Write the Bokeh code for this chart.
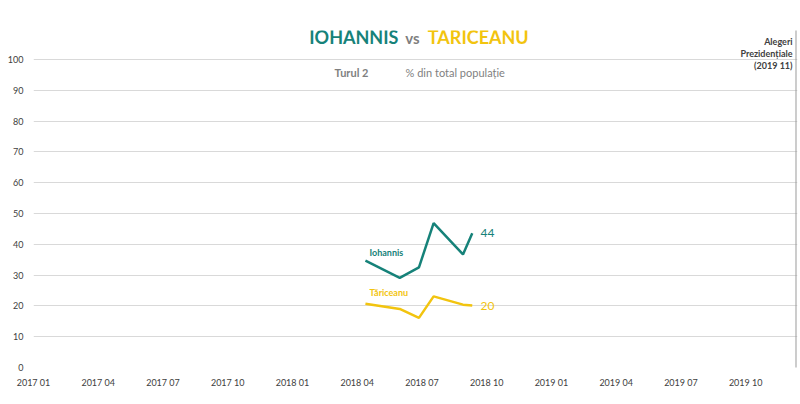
from bokeh.plotting import figure
from bokeh.models import FixedTicker, Span
from bokeh.embed import file_html
from bokeh.resources import INLINE
from bokeh.core.properties import value

# month index: 0 = 2017 01
tick_months = [0, 3, 6, 9, 12, 15, 18, 21, 24, 27, 30, 33]
tick_labels = ["2017 01", "2017 04", "2017 07", "2017 10", "2018 01", "2018 04",
               "2018 07", "2018 10", "2019 01", "2019 04", "2019 07", "2019 10"]

poll_months = [15.38, 16.97, 17.86, 18.54, 19.90, 20.33]
iohannis = [34.7, 29.1, 32.5, 46.9, 36.7, 43.6]
tariceanu = [20.7, 19.0, 16.1, 23.1, 20.4, 20.1]

election_month = 35.33

TEAL = "#168279"
YELLOW = "#f2c40f"
GRAY = "#7f7f7f"
DARK = "#404040"
FONT = "Lato"

p = figure(width=800, height=404, output_backend="svg", toolbar_location=None,
           x_range=(0, 35.4), y_range=(0, 109.4),
           min_border_left=33, min_border_right=3, min_border_top=30, min_border_bottom=37)
p.outline_line_color = None
p.background_fill_color = "white"
p.border_fill_color = "white"

p.xgrid.visible = False
p.ygrid.ticker = FixedTicker(ticks=list(range(0, 101, 10)))
p.ygrid.grid_line_color = "#d9d9d9"
p.ygrid.grid_line_width = 1

p.yaxis.ticker = FixedTicker(ticks=list(range(0, 101, 10)))
p.xaxis.ticker = FixedTicker(ticks=tick_months)
p.xaxis.major_label_overrides = {m: l for m, l in zip(tick_months, tick_labels)}
for ax in (p.xaxis, p.yaxis):
    ax.axis_line_color = None
    ax.major_tick_line_color = None
    ax.minor_tick_line_color = None
    ax.major_label_text_font = FONT
    ax.major_label_text_font_size = "9px"
    ax.major_label_text_color = DARK
p.yaxis.major_label_standoff = 4
p.xaxis.major_label_standoff = 3

p.add_layout(Span(location=election_month, dimension="height", line_color="#9a9a9a",
                  line_dash="1 1", line_width=2))

p.line(poll_months, iohannis, line_color=TEAL, line_width=2.5)
p.line(poll_months, tariceanu, line_color=YELLOW, line_width=2.5)

# end values
p.text([poll_months[-1] + 0.38], [iohannis[-1] + 0.2], text=[str(round(iohannis[-1]))],
       text_color=TEAL, text_font=value(FONT), text_font_size="12px",
       text_baseline="middle", text_align="left")
p.text([poll_months[-1] + 0.38], [tariceanu[-1]], text=[str(round(tariceanu[-1]))],
       text_color=YELLOW, text_font=value(FONT), text_font_size="12px",
       text_baseline="middle", text_align="left")

# series names
p.text([15.57], [37.3], text=["Iohannis"], text_color=TEAL, text_font=value(FONT),
       text_font_size="9px", text_font_style="bold", text_baseline="middle")
p.text([15.57], [24.35], text=["Tăriceanu"], text_color=YELLOW, text_font=value(FONT),
       text_font_size="9px", text_font_style="bold", text_baseline="middle")

# title
p.text([16.91], [107.4], text=["IOHANNIS"], text_color=TEAL, text_font=value(FONT),
       text_font_size="18px", text_font_style="bold", text_baseline="middle", text_align="right")
p.text([17.56], [107.0], text=["vs"], text_color=GRAY, text_font=value(FONT),
       text_font_size="15px", text_font_style="bold", text_baseline="middle", text_align="center")
p.text([18.27], [107.4], text=["TĂRICEANU"], text_color=YELLOW, text_font=value(FONT),
       text_font_size="18px", text_font_style="bold", text_baseline="middle", text_align="left")

# subtitle
p.text([13.95], [95.8], text=["Turul 2"], text_color=GRAY, text_font=value(FONT),
       text_font_size="11px", text_font_style="bold", text_baseline="middle")
p.text([17.24], [95.8], text=["% din total populație"], text_color=GRAY, text_font=value(FONT),
       text_font_size="11px", text_baseline="middle")

# election annotation
for yy, t in zip([105.8, 101.9, 98.05], ["Alegeri", "Prezidențiale", "(2019 11)"]):
    p.text([35.17], [yy], text=[t], text_color=DARK, text_font=value(FONT),
           text_font_size="9px", text_font_style="bold", text_baseline="middle", text_align="right")

open("out.html", "w").write(file_html(p, INLINE))
